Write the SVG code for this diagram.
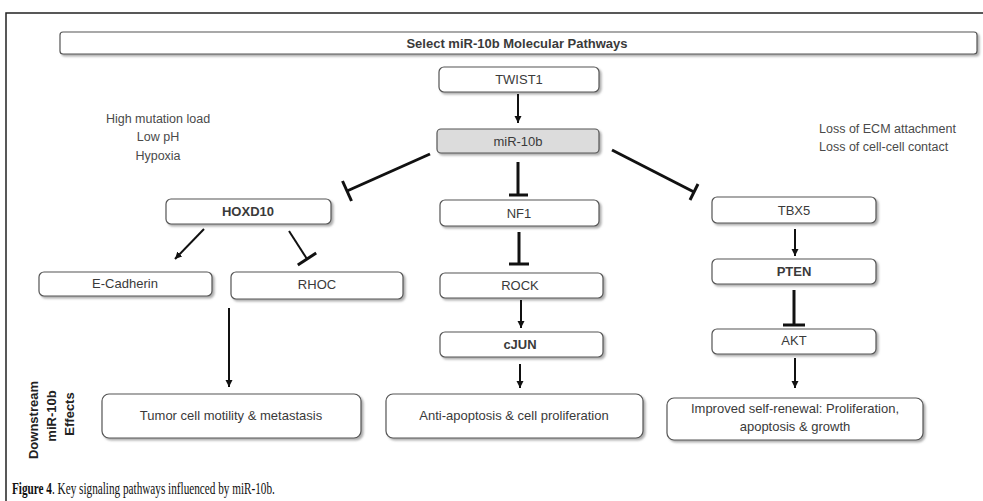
<svg xmlns="http://www.w3.org/2000/svg" width="983" height="501" viewBox="0 0 983 501">
<defs>
<style>
.box{fill:#fff;stroke:#555;stroke-width:1.2;filter:url(#sh)}
.gray{fill:#dcdcdc}
.t{font-family:"Liberation Sans",Arial,sans-serif;font-size:13px;fill:#3a3a3a;text-anchor:middle;dominant-baseline:central}
.b{font-weight:bold}
.note{font-family:"Liberation Sans",Arial,sans-serif;font-size:12.5px;fill:#4a4a4a}
.ln{stroke:#111;stroke-width:2;fill:none}
.inh{stroke:#111;stroke-width:3;fill:none}
.bar{stroke:#111;stroke-width:3;fill:none}
.arr{marker-end:url(#ah)}
</style>
<filter id="sh" x="-5%" y="-20%" width="115%" height="160%">
<feDropShadow dx="2" dy="2" stdDeviation="1.2" flood-color="#777" flood-opacity="0.6"/>
</filter>
<marker id="ah" markerUnits="userSpaceOnUse" markerWidth="9" markerHeight="9" refX="7" refY="3.5" orient="auto">
<path d="M0,0 L7,3.5 L0,7 z" fill="#111"/>
</marker>
</defs>
<rect width="983" height="501" fill="#fff"/>
<path d="M6,520 L6,13 L990,13" fill="none" stroke="#222" stroke-width="1.5"/>

<g id="title"><rect class="box" x="60" y="32" width="917" height="22" rx="3"/><text class="t b" x="517" y="43">Select miR-10b Molecular Pathways</text></g>
<g id="twist1"><rect class="box" x="439" y="67" width="160" height="25" rx="5"/><text class="t" x="519" y="79">TWIST1</text></g>
<g id="mir10b"><rect class="box gray" x="437" y="129" width="162" height="24" rx="4"/><text class="t" x="518" y="141">miR-10b</text></g>
<g id="hoxd10"><rect class="box" x="166" y="199" width="165" height="25" rx="5"/><text class="t b" x="248" y="211">HOXD10</text></g>
<g id="nf1"><rect class="box" x="440" y="200" width="159" height="26" rx="5"/><text class="t" x="519" y="213">NF1</text></g>
<g id="tbx5"><rect class="box" x="712" y="197" width="164" height="26" rx="5"/><text class="t" x="794" y="210">TBX5</text></g>
<g id="ecadherin"><rect class="box" x="39" y="272" width="173" height="24" rx="5"/><text class="t" x="125" y="283">E-Cadherin</text></g>
<g id="rhoc"><rect class="box" x="231" y="272" width="172" height="27" rx="5"/><text class="t" x="317" y="284">RHOC</text></g>
<g id="rock"><rect class="box" x="440" y="273" width="163" height="25" rx="5"/><text class="t" x="520" y="285">ROCK</text></g>
<g id="pten"><rect class="box" x="712" y="259" width="164" height="25" rx="5"/><text class="t b" x="794" y="271">PTEN</text></g>
<g id="cjun"><rect class="box" x="440" y="332" width="163" height="25" rx="5"/><text class="t b" x="520" y="344">cJUN</text></g>
<g id="akt"><rect class="box" x="712" y="329" width="164" height="25" rx="5"/><text class="t" x="794" y="340">AKT</text></g>
<g id="tumor"><rect class="box" x="102" y="394" width="259" height="44" rx="7"/><text class="t" x="231" y="415">Tumor cell motility &amp; metastasis</text></g>
<g id="antiapoptosis"><rect class="box" x="386" y="394" width="257" height="44" rx="7"/><text class="t" x="514" y="415">Anti-apoptosis &amp; cell proliferation</text></g>
<g id="selfrenewal"><rect class="box" x="667" y="398" width="256" height="42" rx="7"/><text class="t" x="795" y="408">Improved self-renewal: Proliferation,</text><text class="t" x="795" y="426">apoptosis &amp; growth</text></g>

<g id="notes">
<text class="note" x="158" y="123" text-anchor="middle">High mutation load</text>
<text class="note" x="158" y="141" text-anchor="middle">Low pH</text>
<text class="note" x="158" y="160" text-anchor="middle">Hypoxia</text>
<text class="note" x="819" y="133">Loss of ECM attachment</text>
<text class="note" x="819" y="151">Loss of cell-cell contact</text>
</g>

<g id="sidelabel" font-family="'Liberation Sans',Arial,sans-serif" font-weight="bold" font-size="13" fill="#222" text-anchor="middle">
<text transform="translate(38,420) rotate(-90)">Downstream</text>
<text transform="translate(56,416) rotate(-90)">miR-10b</text>
<text transform="translate(74,414) rotate(-90)">Effects</text>
</g>

<g id="connectors">
<line class="ln arr" x1="518" y1="94" x2="518" y2="123"/>
<line class="inh" x1="518" y1="162" x2="518" y2="195"/><line class="bar" x1="509" y1="195" x2="528" y2="195"/>
<line class="inh" x1="519" y1="232" x2="519" y2="264"/><line class="bar" x1="509" y1="264" x2="529" y2="264"/>
<line class="ln arr" x1="521" y1="300" x2="521" y2="328"/>
<line class="ln arr" x1="520" y1="364" x2="520" y2="388"/>
<line class="inh" x1="430" y1="154" x2="347" y2="191"/><line class="bar" x1="342.5" y1="181" x2="351.5" y2="201"/>
<line class="inh" x1="612" y1="150" x2="694" y2="192"/><line class="bar" x1="698" y1="184" x2="690" y2="200"/>
<line class="ln arr" x1="204" y1="229" x2="175" y2="259"/>
<line class="ln" x1="289" y1="231" x2="307" y2="259"/><line class="bar" x1="297.8" y1="265" x2="316.2" y2="253"/>
<line class="ln arr" x1="229" y1="308" x2="229" y2="387"/>
<line class="ln arr" x1="795" y1="229" x2="795" y2="256"/>
<line class="inh" x1="794" y1="290" x2="794" y2="325"/><line class="bar" x1="783" y1="325" x2="805" y2="325"/>
<line class="ln arr" x1="795" y1="358" x2="795" y2="388"/>
</g>

<g id="caption" transform="translate(12,494) scale(0.66,1)">
<text x="0" y="0" font-family="'Liberation Serif','Times New Roman',serif" font-size="17" fill="#111"><tspan font-weight="bold">Figure 4</tspan>. Key signaling pathways influenced by miR-10b.</text>
</g>
</svg>
